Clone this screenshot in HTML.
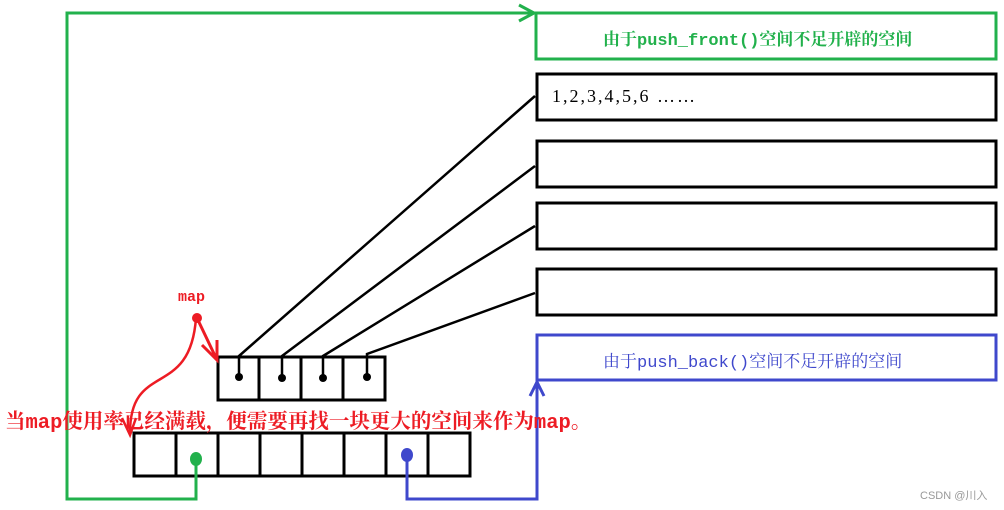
<!DOCTYPE html>
<html><head><meta charset="utf-8"><style>
body{margin:0;width:1004px;height:510px;background:#fff;overflow:hidden;position:relative}
svg{position:absolute;left:0;top:0}
.t{position:absolute;white-space:nowrap;font-family:"Liberation Serif","Noto Serif CJK SC",serif}
.m{font-family:"Liberation Mono",monospace}
</style></head><body>
<svg width="1004" height="510">
<g fill="none" stroke-width="3">
<rect x="536" y="13" width="460" height="46" stroke="#22b14c"/>
<rect x="537" y="74" width="459" height="46" stroke="#000"/>
<rect x="537" y="141" width="459" height="46" stroke="#000"/>
<rect x="537" y="203" width="459" height="46" stroke="#000"/>
<rect x="537" y="269" width="459" height="46" stroke="#000"/>
<rect x="537" y="335" width="459" height="45" stroke="#3f48cc"/>
<rect x="218" y="357" width="167" height="43" stroke="#000"/>
<path d="M259 357V400M301 357V400M343 357V400" stroke="#000"/>
<rect x="134" y="433" width="336" height="43" stroke="#000"/>
<path d="M176 433V476M218 433V476M260 433V476M302 433V476M344 433V476M386 433V476M428 433V476" stroke="#000"/>
<path d="M239 376V356L535 96M282 378V356L535 166M323 378V356L535 226M367 378V354L535 293" stroke="#000" stroke-width="2.5"/>
<path d="M196 460V499H67V13H534M519 5L534 13L519 21" stroke="#22b14c"/>
<path d="M407 457V499H537V382M530 396L537 382L544 396" stroke="#3f48cc"/>
<path d="M197 318L217 360M202 345L217 360L217 340" stroke="#ed1c24"/>
<path d="M196 318C190 400 130 360 130 433M122 418L130 435L136 418" stroke="#ed1c24" stroke-width="2.5"/>
</g>
<g>
<circle cx="239" cy="377" r="4" fill="#000"/><circle cx="282" cy="378" r="4" fill="#000"/>
<circle cx="323" cy="378" r="4" fill="#000"/><circle cx="367" cy="377" r="4" fill="#000"/>
<ellipse cx="196" cy="459" rx="6" ry="7" fill="#22b14c"/>
<ellipse cx="407" cy="455" rx="6" ry="7" fill="#3f48cc"/>
<circle cx="197" cy="318" r="5" fill="#ed1c24"/>
</g>
</svg>
<div class="t" style="left:603px;top:25px;font-size:17px;color:#22b14c;font-weight:bold">由于<span class="m">push_front()</span>空间不足开辟的空间</div>
<div class="t" style="left:552px;top:86px;font-size:18px;color:#000;letter-spacing:2px">1,2,3,4,5,6 ……</div>
<div class="t" style="left:603px;top:347px;font-size:17px;color:#3f48cc">由于<span class="m">push_back()</span>空间不足开辟的空间</div>
<div class="t m" style="left:178px;top:289px;font-size:15px;color:#ed1c24;font-weight:bold">map</div>
<div class="t" style="left:5px;top:404px;font-size:20.5px;color:#ed1c24;font-weight:bold">当<span class="m">map</span>使用率已经满载，便需要再找一块更大的空间来作为<span class="m">map</span>。</div>
<div class="t" style="left:920px;top:487px;font-size:11px;color:#999;font-family:'Liberation Sans','Noto Sans CJK SC',sans-serif">CSDN @川入</div>
</body></html>
